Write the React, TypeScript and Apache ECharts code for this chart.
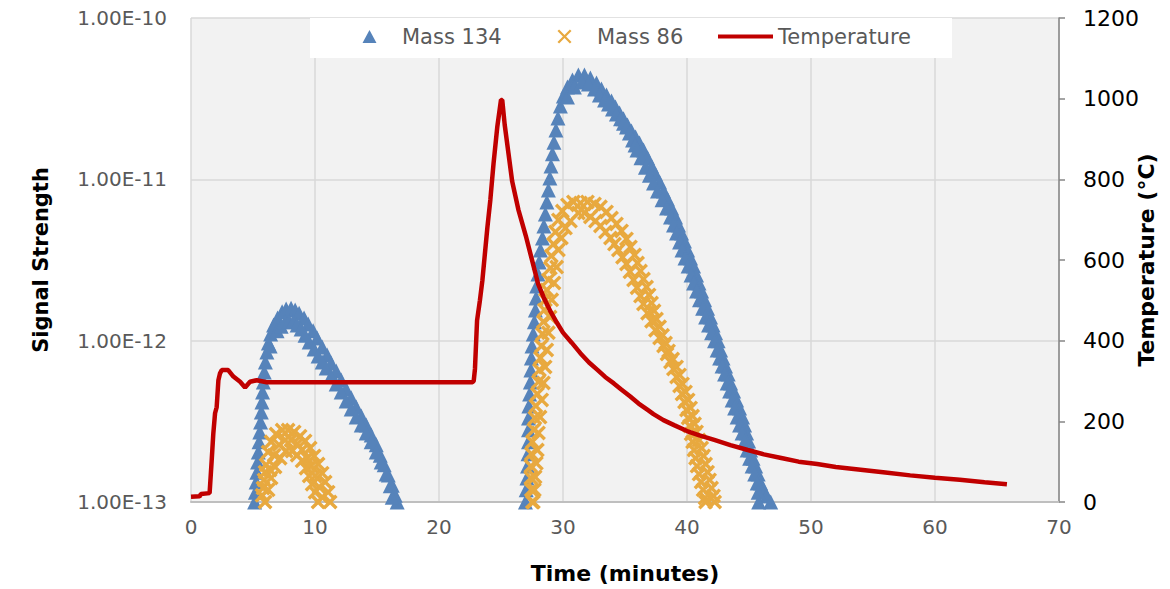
import React, { useEffect, useRef } from "react";
import * as echarts from "echarts";

const FONT = "'DejaVu Sans', sans-serif";

const xMin = 0;
const xMax = 70;
const xStep = 10;
const signalMin = 1e-13;
const signalMax = 1e-10;
const tempMin = 0;
const tempMax = 1200;
const tempStep = 200;

const seriesNames = ["Mass 134", "Mass 86", "Temperature"];

// Mass 134 (blue triangles) — points read along the band, [minutes, signal]
const mass134Peak1Outer: [number, number][] = [
  [5.13, 1.0e-13], [5.19, 1.15e-13], [5.25, 1.33e-13], [5.31, 1.53e-13], [5.37, 1.77e-13], [5.43, 2.04e-13],
  [5.49, 2.36e-13], [5.55, 2.72e-13], [5.61, 3.13e-13], [5.67, 3.61e-13], [5.72, 4.17e-13], [5.77, 4.81e-13],
  [5.83, 5.55e-13], [5.91, 6.4e-13], [6.0, 7.38e-13], [6.12, 8.51e-13], [6.24, 9.67e-13], [6.42, 1.1e-12],
  [6.66, 1.25e-12], [6.98, 1.38e-12], [7.35, 1.51e-12], [7.67, 1.57e-12], [8.07, 1.59e-12], [8.4, 1.55e-12],
  [8.72, 1.48e-12], [9.12, 1.38e-12], [9.45, 1.27e-12], [9.85, 1.15e-12], [10.17, 1.04e-12], [10.58, 9.13e-13],
  [10.98, 8.15e-13], [11.3, 7.27e-13], [11.71, 6.48e-13], [12.11, 5.7e-13], [12.51, 5.02e-13], [12.92, 4.42e-13],
  [13.32, 3.88e-13], [13.73, 3.41e-13], [14.13, 3.0e-13], [14.53, 2.6e-13], [14.94, 2.26e-13], [15.26, 1.95e-13],
  [15.58, 1.7e-13], [15.91, 1.47e-13], [16.23, 1.27e-13], [16.47, 1.1e-13], [16.63, 1.0e-13],
];
const mass134Peak1Inner: [number, number][] = [
  [6.38, 9.28e-13], [6.94, 1.15e-12], [7.27, 1.23e-12], [7.59, 1.31e-12], [7.91, 1.32e-12], [8.24, 1.31e-12],
  [8.56, 1.25e-12], [8.88, 1.18e-12], [9.2, 1.08e-12], [9.53, 9.81e-13], [9.93, 8.87e-13], [10.25, 8.03e-13],
  [10.58, 7.37e-13], [10.9, 6.77e-13], [11.3, 6.04e-13], [11.71, 5.39e-13], [12.11, 4.81e-13], [12.51, 4.23e-13],
  [12.92, 3.77e-13], [13.32, 3.36e-13], [13.73, 3.0e-13], [14.13, 2.68e-13], [14.53, 2.36e-13], [14.94, 2.04e-13],
  [15.34, 1.77e-13], [15.74, 1.49e-13], [16.07, 1.26e-13], [16.23, 1.07e-13],
];
const mass134Peak2Outer: [number, number][] = [
  [26.97, 1.0e-13], [27.03, 1.19e-13], [27.09, 1.41e-13], [27.14, 1.67e-13], [27.18, 1.99e-13], [27.22, 2.36e-13],
  [27.22, 2.8e-13], [27.22, 3.32e-13], [27.25, 3.94e-13], [27.31, 4.67e-13], [27.37, 5.55e-13], [27.41, 6.58e-13],
  [27.45, 7.81e-13], [27.5, 9.27e-13], [27.6, 1.1e-12], [27.69, 1.31e-12], [27.77, 1.55e-12], [27.83, 1.84e-12],
  [27.88, 2.18e-12], [27.98, 2.59e-12], [28.08, 3.07e-12], [28.18, 3.65e-12], [28.34, 4.33e-12], [28.46, 5.14e-12],
  [28.58, 6.1e-12], [28.7, 7.24e-12], [28.82, 8.59e-12], [28.94, 1.02e-11], [29.03, 1.21e-11], [29.15, 1.44e-11],
  [29.27, 1.7e-11], [29.43, 2.02e-11], [29.59, 2.4e-11], [29.79, 2.85e-11], [30.03, 3.28e-11], [30.36, 3.74e-11],
  [30.76, 4.13e-11], [31.24, 4.44e-11], [31.73, 4.44e-11], [32.21, 4.25e-11], [32.7, 3.96e-11], [33.1, 3.63e-11],
  [33.51, 3.33e-11], [33.91, 3.06e-11], [34.23, 2.81e-11], [34.56, 2.58e-11], [34.88, 2.37e-11], [35.2, 2.17e-11],
  [35.52, 1.99e-11], [35.85, 1.83e-11], [36.17, 1.68e-11], [36.49, 1.52e-11], [36.82, 1.36e-11], [37.14, 1.21e-11],
  [37.46, 1.08e-11], [37.79, 9.64e-12], [38.11, 8.47e-12], [38.43, 7.56e-12], [38.76, 6.64e-12], [39.08, 5.85e-12],
  [39.32, 5.21e-12], [39.56, 4.65e-12], [39.8, 4.15e-12], [40.05, 3.65e-12], [40.29, 3.25e-12], [40.53, 2.9e-12],
  [40.77, 2.55e-12], [40.97, 2.28e-12], [41.18, 2.03e-12], [41.42, 1.79e-12], [41.66, 1.59e-12], [41.9, 1.4e-12],
  [42.1, 1.25e-12], [42.31, 1.12e-12], [42.51, 1.0e-12], [42.71, 8.76e-13], [42.91, 7.81e-13], [43.11, 6.97e-13],
  [43.32, 6.22e-13], [43.52, 5.47e-13], [43.76, 4.88e-13], [44.0, 4.29e-13], [44.24, 3.83e-13], [44.48, 3.36e-13],
  [44.65, 3.0e-13], [44.81, 2.68e-13], [44.97, 2.39e-13], [45.13, 2.1e-13], [45.33, 1.87e-13], [45.54, 1.67e-13],
  [45.74, 1.49e-13], [45.94, 1.31e-13], [46.18, 1.19e-13], [46.42, 1.09e-13], [46.75, 1.0e-13],
];
const mass134Peak2Inner: [number, number][] = [
  [30.36, 3.24e-11], [30.92, 3.74e-11], [31.54, 4.01e-11], [32.05, 3.9e-11], [32.54, 3.63e-11], [32.94, 3.33e-11],
  [33.35, 3.1e-11], [33.67, 2.93e-11], [33.99, 2.73e-11], [34.31, 2.54e-11], [34.64, 2.37e-11], [34.88, 2.23e-11],
  [35.12, 2.11e-11], [35.36, 1.94e-11], [35.61, 1.75e-11], [35.81, 1.63e-11], [35.97, 1.52e-11], [36.29, 1.36e-11],
  [36.65, 1.19e-11], [36.97, 1.06e-11], [37.3, 9.5e-12], [37.62, 8.47e-12], [37.99, 7.47e-12], [38.35, 6.64e-12],
  [38.67, 5.85e-12], [38.91, 5.21e-12], [39.16, 4.65e-12], [39.4, 4.09e-12], [39.6, 3.65e-12], [39.84, 3.25e-12],
  [40.09, 2.9e-12], [40.33, 2.55e-12], [40.53, 2.28e-12], [40.77, 2.03e-12], [41.01, 1.79e-12], [41.26, 1.59e-12],
  [41.5, 1.4e-12], [41.74, 1.25e-12], [41.98, 1.12e-12], [42.22, 1.0e-12], [42.43, 8.76e-13], [42.63, 7.81e-13],
  [42.83, 6.97e-13], [43.03, 6.22e-13], [43.24, 5.47e-13], [43.44, 4.88e-13], [43.64, 4.29e-13], [43.84, 3.83e-13],
  [44.04, 3.36e-13], [44.24, 3.0e-13], [44.44, 2.68e-13], [44.65, 2.39e-13], [44.85, 2.1e-13], [45.05, 1.87e-13],
  [45.25, 1.67e-13], [45.46, 1.49e-13], [45.66, 1.31e-13], [45.74, 1.15e-13], [45.78, 1.0e-13],
];

// Mass 86 (orange crosses)
const mass86Peak1Outer: [number, number][] = [
  [5.73, 1.1e-13], [5.81, 1.22e-13], [5.89, 1.37e-13], [5.97, 1.53e-13], [6.06, 1.7e-13], [6.22, 2.04e-13],
  [6.46, 2.36e-13], [6.86, 2.64e-13], [7.35, 2.79e-13], [7.83, 2.79e-13], [8.32, 2.72e-13], [8.8, 2.56e-13],
  [9.2, 2.39e-13], [9.61, 2.16e-13], [9.93, 1.93e-13], [10.25, 1.72e-13], [10.58, 1.51e-13], [10.82, 1.33e-13],
  [11.06, 1.15e-13], [11.22, 1.0e-13],
];
const mass86Peak1Middle: [number, number][] = [
  [6.38, 1.58e-13], [6.7, 1.95e-13], [7.1, 2.26e-13], [7.59, 2.42e-13], [8.07, 2.42e-13], [8.56, 2.29e-13],
  [8.96, 2.1e-13], [9.37, 1.87e-13], [9.69, 1.67e-13], [10.01, 1.45e-13], [10.33, 1.24e-13], [10.58, 1.07e-13],
];
const mass86Peak1Inner: [number, number][] = [
  [5.97, 1.0e-13], [6.22, 1.19e-13], [6.46, 1.41e-13], [6.78, 1.65e-13], [7.19, 1.87e-13], [7.67, 2.07e-13],
  [8.15, 2.07e-13], [8.56, 1.95e-13], [8.96, 1.8e-13], [9.28, 1.62e-13], [9.53, 1.45e-13], [9.77, 1.29e-13],
  [10.01, 1.15e-13], [10.25, 1.0e-13],
];
const mass86Peak2Outer: [number, number][] = [
  [27.53, 1.0e-13], [27.45, 1.19e-13], [27.41, 1.41e-13], [27.41, 1.67e-13], [27.45, 1.99e-13], [27.53, 2.36e-13],
  [27.65, 2.8e-13], [27.73, 3.32e-13], [27.81, 3.94e-13], [27.93, 4.67e-13], [28.02, 5.55e-13], [28.1, 6.58e-13],
  [28.18, 7.81e-13], [28.26, 9.27e-13], [28.34, 1.1e-12], [28.42, 1.31e-12], [28.5, 1.55e-12], [28.58, 1.79e-12],
  [28.7, 2.06e-12], [28.82, 2.38e-12], [28.98, 2.82e-12], [29.06, 3.35e-12], [29.23, 3.97e-12], [29.39, 4.72e-12],
  [29.63, 5.6e-12], [29.95, 6.36e-12], [30.36, 6.94e-12], [30.84, 7.24e-12], [31.41, 7.13e-12], [31.97, 7.24e-12],
  [32.54, 7.04e-12], [33.02, 6.75e-12], [33.51, 6.28e-12], [33.91, 5.76e-12], [34.31, 5.29e-12], [34.72, 4.79e-12],
  [35.12, 4.27e-12], [35.44, 3.81e-12], [35.77, 3.4e-12], [36.01, 3.03e-12], [36.25, 2.7e-12], [36.49, 2.41e-12],
  [36.74, 2.15e-12], [36.94, 1.92e-12], [37.14, 1.71e-12], [37.34, 1.53e-12], [37.54, 1.36e-12], [37.79, 1.22e-12],
  [38.03, 1.08e-12], [38.27, 9.67e-13], [38.51, 8.64e-13], [38.84, 7.7e-13], [39.16, 6.87e-13], [39.4, 6.13e-13],
  [39.64, 5.39e-13], [39.88, 4.81e-13], [40.09, 4.29e-13], [40.29, 3.83e-13], [40.45, 3.41e-13], [40.61, 3.05e-13],
  [40.77, 2.72e-13], [40.97, 2.42e-13], [41.18, 2.16e-13], [41.34, 1.93e-13], [41.5, 1.72e-13], [41.66, 1.53e-13],
  [41.82, 1.37e-13], [41.98, 1.22e-13], [42.14, 1.09e-13], [42.23, 1.0e-13],
];
const mass86Peak2Inner: [number, number][] = [
  [27.61, 1.0e-13], [27.69, 1.19e-13], [27.75, 1.43e-13], [27.85, 1.74e-13], [27.93, 2.1e-13], [28.02, 2.68e-13],
  [28.15, 3.36e-13], [28.28, 4.29e-13], [28.42, 5.47e-13], [28.56, 6.87e-13], [28.69, 8.76e-13], [28.82, 1.12e-12],
  [28.96, 1.4e-12], [29.09, 1.79e-12], [29.27, 2.28e-12], [29.49, 2.86e-12], [29.63, 3.65e-12], [29.87, 4.33e-12],
  [30.2, 4.99e-12], [30.6, 5.51e-12], [31.24, 6.19e-12], [31.73, 6.19e-12], [32.21, 5.85e-12], [32.62, 5.51e-12],
  [33.02, 5.14e-12], [33.43, 4.72e-12], [33.83, 4.33e-12], [34.15, 3.97e-12], [34.47, 3.65e-12], [34.8, 3.29e-12],
  [35.12, 2.99e-12], [35.4, 2.67e-12], [35.69, 2.38e-12], [35.97, 2.13e-12], [36.25, 1.89e-12], [36.49, 1.69e-12],
  [36.82, 1.48e-12], [37.14, 1.32e-12], [37.46, 1.16e-12], [37.79, 1.04e-12], [38.11, 9.27e-13], [38.39, 8.27e-13],
  [38.67, 7.38e-13], [38.91, 6.68e-13], [39.16, 5.96e-13], [39.4, 5.24e-13], [39.6, 4.67e-13], [39.8, 4.17e-13],
  [39.96, 3.72e-13], [40.09, 3.32e-13], [40.21, 2.96e-13], [40.33, 2.64e-13], [40.45, 2.36e-13], [40.57, 2.1e-13],
  [40.69, 1.87e-13], [40.81, 1.67e-13], [40.97, 1.49e-13], [41.14, 1.33e-13], [41.3, 1.19e-13], [41.46, 1.06e-13],
  [41.5, 1.0e-13],
];

// Temperature (°C) vs minutes
const tempMinutes = [
  0, 0.7, 0.8, 1.5, 1.67, 1.8, 1.94, 2.07, 2.21, 2.34, 2.48, 3.0, 3.42, 3.96, 4.36, 4.76, 5.3, 6.1, 10, 15, 20,
  22.7, 22.8, 22.9, 23.07, 23.3, 23.5, 23.9, 24.14, 24.4, 24.7, 25.0, 25.1, 25.3, 25.6, 25.9, 26.4, 27.0, 27.4,
  28.0, 28.5, 29.0, 29.5, 30.0, 30.7, 31.4, 32.1, 32.8, 33.4, 34.1, 34.7, 35.4, 36.1, 36.8, 37.3, 38.1, 39.0,
  40.0, 41.0, 42.2, 43.5, 44.9, 46.2, 47.6, 49.0, 50.5, 52.0, 54.0, 56.0, 58.0, 60.0, 62.0, 64.0, 65.8,
];
const tempCelsius = [
  13, 14, 20, 22, 104, 170, 220, 235, 302, 319, 327, 327, 311, 298, 284, 298, 302, 297, 297, 297, 297,
  297, 300, 330, 450, 500, 550, 680, 749, 840, 930, 997, 997, 935, 865, 795, 725, 660, 612,
  540, 503, 472, 445, 420, 395, 369, 346, 327, 310, 294, 279, 262, 244, 229, 218, 203, 190,
  176, 165, 154, 141, 129, 118, 109, 100, 94, 87, 80, 73, 66, 60, 55, 49, 44,
];

const BLUE = "#5683ba";
const ORANGE = "#e8a93f";
const RED = "#c00000";
const X_SYMBOL =
  "path://M0,1.6L1.6,0L5,3.4L8.4,0L10,1.6L6.6,5L10,8.4L8.4,10L5,6.6L1.6,10L0,8.4L3.4,5Z";
// legend icons padded to a 55 x 14 slot (tiny corner dots keep the box)
const LEGEND_TRIANGLE =
  "path://M0,0L0.01,0L0.01,0.01Z M20.5,13.5L27.5,0.5L34.5,13.5Z M54.99,13.99L55,13.99L55,14Z";
const LEGEND_X =
  "path://M0,0L0.01,0L0.01,0.01Z M20.5,1.6L22.1,0L27.5,5.4L32.9,0L34.5,1.6L29.1,7L34.5,12.4L32.9,14L27.5,8.6L22.1,14L20.5,12.4L25.9,7Z M54.99,13.99L55,13.99L55,14Z";

export default function App() {
  const ref = useRef<HTMLDivElement>(null);

  useEffect(() => {
    if (!ref.current) return;
    const chart = echarts.init(ref.current, null, { renderer: "svg" });

    const legendText = { color: "#595959", fontSize: 21, fontFamily: FONT };
    const legendBase = {
      top: 26,
      itemWidth: 55,
      itemHeight: 14,
      itemGap: 0,
      padding: 0,
      z: 10,
      textStyle: legendText,
      selectedMode: false,
    };

    const option: any = {
      animation: false,
      backgroundColor: "#ffffff",
      textStyle: { fontFamily: FONT },
      grid: {
        left: 191,
        right: 111,
        top: 18,
        bottom: 87,
        show: true,
        backgroundColor: "#f2f2f2",
        borderWidth: 0,
        containLabel: false,
        outerBoundsMode: "none",
      },
      graphic: [
        {
          type: "rect",
          left: 310,
          top: 18,
          z: 9,
          shape: { width: 642, height: 40 },
          style: { fill: "#ffffff" },
        },
      ],
      legend: [
        { ...legendBase, left: 342, data: [{ name: seriesNames[0], icon: LEGEND_TRIANGLE }] },
        { ...legendBase, left: 537, data: [{ name: seriesNames[1], icon: LEGEND_X }] },
        { ...legendBase, left: 718, top: 26, itemHeight: 4, data: [{ name: seriesNames[2], icon: "rect" }] },
      ],
      xAxis: {
        type: "value",
        min: xMin,
        max: xMax,
        interval: xStep,
        name: "Time (minutes)",
        nameLocation: "middle",
        nameGap: 60,
        nameMoveOverlap: false,
        nameTextStyle: { fontFamily: FONT, fontSize: 22, fontWeight: "bold", color: "#000" },
        axisLine: { show: true, onZero: false, lineStyle: { color: "#bfbfbf", width: 2 } },
        axisTick: { show: false },
        axisLabel: { color: "#595959", fontSize: 20, fontFamily: FONT, margin: 15 },
        splitLine: { show: true, lineStyle: { color: "#d9d9d9", width: 1.5 } },
      },
      yAxis: [
        {
          type: "log",
          logBase: 10,
          min: signalMin,
          max: signalMax,
          name: "Signal Strength",
          nameLocation: "middle",
          nameRotate: 90,
          nameGap: 140,
          nameMoveOverlap: false,
          nameTextStyle: { fontFamily: FONT, fontSize: 21, fontWeight: "bold", color: "#000" },
          axisLine: { show: false },
          axisTick: { show: false },
          axisLabel: {
            color: "#595959",
            fontSize: 20,
            fontFamily: FONT,
            margin: 24,
            formatter: (v: number) => "1.00E" + Math.round(Math.log10(v)),
          },
          splitLine: { show: true, lineStyle: { color: "#d9d9d9", width: 1.5 } },
          minorSplitLine: { show: false },
        },
        {
          type: "value",
          position: "right",
          min: tempMin,
          max: tempMax,
          interval: tempStep,
          name: "Temperature (°C)",
          nameLocation: "middle",
          nameRotate: 90,
          nameGap: 76,
          nameMoveOverlap: false,
          nameTextStyle: { fontFamily: FONT, fontSize: 22, fontWeight: "bold", color: "#000" },
          axisLine: { show: true, lineStyle: { color: "#868686", width: 1.5 } },
          axisTick: { show: true, inside: false, length: 6, lineStyle: { color: "#868686", width: 1.5 } },
          axisLabel: {
            color: "#000",
            fontSize: 22,
            fontFamily: FONT,
            margin: 24,
            formatter: (v: number) => String(v),
          },
          splitLine: { show: false },
        },
      ],
      series: [
        {
          name: seriesNames[0],
          type: "scatter",
          yAxisIndex: 0,
          symbol: "triangle",
          symbolSize: 15,
          clip: false,
          itemStyle: { color: BLUE, opacity: 1 },
          data: [...mass134Peak1Outer, ...mass134Peak1Inner, ...mass134Peak2Outer, ...mass134Peak2Inner],
        },
        {
          name: seriesNames[1],
          type: "scatter",
          yAxisIndex: 0,
          symbol: X_SYMBOL,
          symbolSize: 15,
          clip: false,
          itemStyle: { color: ORANGE, opacity: 1 },
          data: [
            ...mass86Peak1Outer,
            ...mass86Peak1Middle,
            ...mass86Peak1Inner,
            ...mass86Peak2Outer,
            ...mass86Peak2Inner,
          ],
        },
        {
          name: seriesNames[2],
          type: "line",
          yAxisIndex: 1,
          symbol: "none",
          showSymbol: false,
          lineStyle: { color: RED, width: 4.5 },
          itemStyle: { color: RED },
          data: tempMinutes.map((t, i) => [t, tempCelsius[i]]),
        },
      ],
    };

    chart.setOption(option);
    return () => chart.dispose();
  }, []);

  return (
    <div
      ref={ref}
      style={{ position: "fixed", left: 0, top: 0, width: 1170, height: 589, background: "#fff" }}
    />
  );
}
